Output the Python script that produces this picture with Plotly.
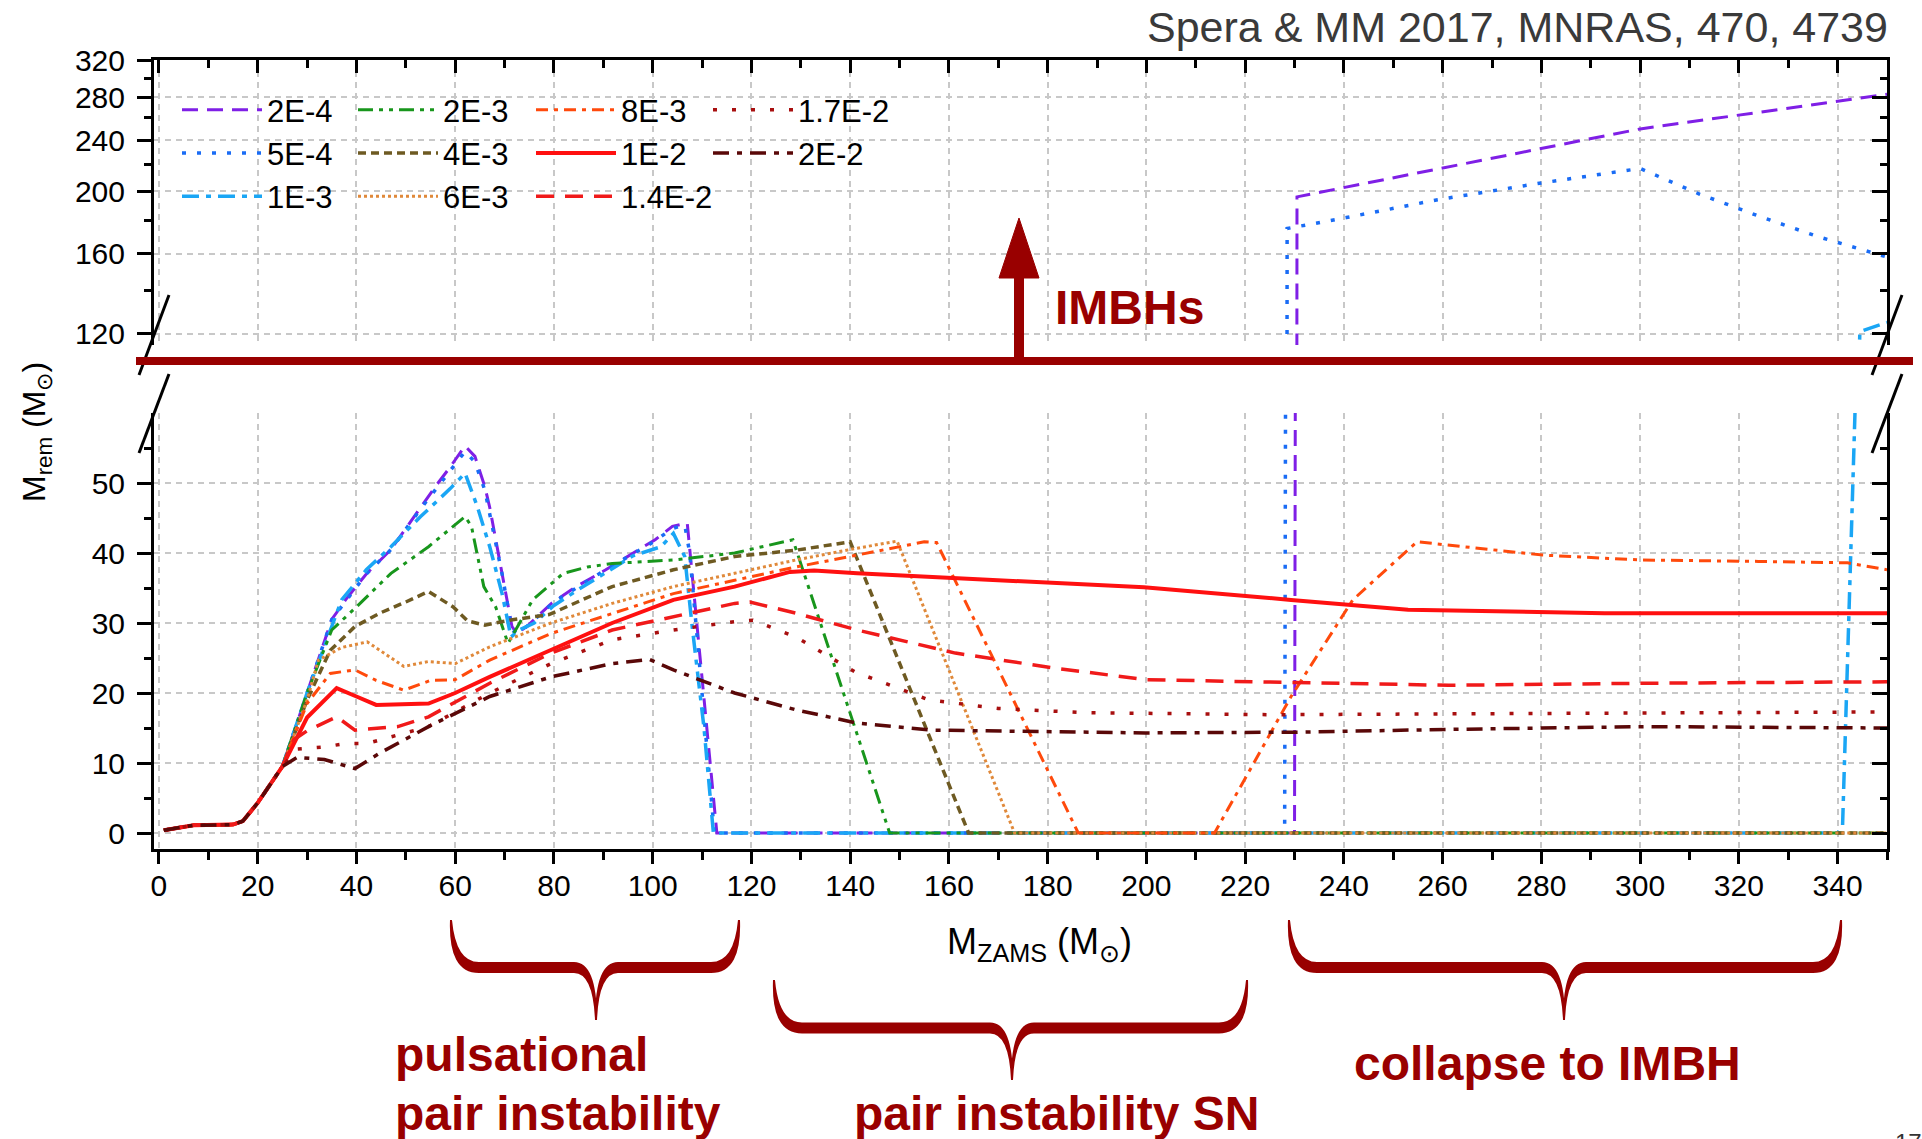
import numpy as np
import plotly.graph_objects as go

W, H = 1922, 1139
ML, MR, MT, MB = 154, 35, 60, 290
PW, PH = W - ML - MR, H - MT - MB


def px(X):
    return (X - ML) / PW


def py(Y):
    return (H - MB - Y) / PH


FONT = "Liberation Sans, Arial, sans-serif"
DARKRED = "#990000"

# ---------------- data ----------------
x_common = [1, 7, 15, 17, 20, 25]
y_common = [0.4, 1.1, 1.2, 1.7, 4.3, 9.5]

x_2e4 = [30, 35, 38, 42, 47, 53, 56, 59, 62, 64, 66, 67, 69.5, 71.5, 72.5, 74.5, 79.5, 84.5, 90.5, 97,
         100.5, 104, 107, 113, 230, 230.5, 300, 350]
y_2e4 = [20, 30.5, 33.5, 37, 40.5, 46.5, 49.5, 52.3, 55.3, 53.8, 49.5, 46.5, 37, 29.5, 28.5, 29.5, 32.8,
         35.2, 37.6, 40.4, 41.9, 43.8, 44.3, 0, 0, 196, 250, 283]

x_5e4 = [30, 35, 42, 47, 53, 59, 62, 64, 66, 69.5, 71.5, 72.5, 74.5, 80, 90, 100, 104, 106.5, 107.5,
         112.5, 228, 228.5, 240.5, 259, 280, 300, 312, 324, 336, 350]
y_5e4 = [20, 30.5, 37, 40.5, 46.3, 51.8, 54.5, 53, 49, 37, 29, 28.5, 29.5, 33, 37.4, 41.5, 43.5, 44, 40,
         0, 0, 175, 182, 194, 206, 217, 198, 183, 170, 158]

x_1e3 = [30, 35, 37, 42, 47, 53, 59, 62, 64.5, 67, 69.5, 71.3, 73, 76, 80, 85, 90, 96, 101.7, 104.2,
         106.5, 108, 110.4, 112.3, 340, 341, 343.6, 344.5, 350]
y_1e3 = [20, 29.5, 33.3, 37.6, 40.9, 45.2, 49.2, 51.4, 46.6, 40.9, 34.2, 28, 29, 30, 32.5, 34.8, 37, 39.6,
         40.9, 42.8, 39.5, 29.5, 15, 0, 0, 1, 62, 121, 125]

x_2e3 = [30, 35, 40, 47, 54.6, 59.6, 62, 63.3, 65.8, 68.2, 70.7, 75.7, 81.9, 86.8, 91.8, 104.2, 116.6,
         128.4, 148, 350]
y_2e3 = [20, 29, 32.3, 37.1, 40.9, 43.8, 45.2, 43.8, 35.2, 32.3, 27.1, 33.3, 37.1, 38, 38.5, 39, 40,
         41.9, 0, 0]

x_4e3 = [30, 34.7, 39.7, 44.7, 50, 54.6, 59.6, 62.5, 66, 71, 79, 91.8, 104.2, 116.6, 129, 140, 164, 350]
y_4e3 = [19, 26.1, 29.5, 31.4, 33, 34.5, 32.3, 30.3, 29.7, 30.4, 31.2, 35.2, 37.6, 39.5, 40.4, 41.6, 0, 0]

x_6e3 = [30, 32.3, 37, 42.2, 46, 49.6, 54.6, 60, 67, 79.4, 91.8, 104.2, 116.6, 129, 140, 149.5, 173.3, 350]
y_6e3 = [19, 24.7, 26.5, 27.3, 25.5, 23.8, 24.5, 24.2, 26.6, 30, 32.8, 35.2, 37.1, 39, 40.5, 41.7, 0, 0]

x_8e3 = [30, 34.7, 39.7, 44, 49.6, 55, 60, 67, 79.4, 91.8, 104.2, 116.6, 129, 141.4, 155, 157.5, 186.2,
         213.8, 229.3, 241.8, 254.8, 280.3, 300.3, 323.9, 342, 350]
y_8e3 = [18.5, 22.8, 23.3, 21.8, 20.4, 21.8, 21.9, 24.7, 28.5, 31.4, 34.2, 36.1, 38, 39.7, 41.6, 41.5, 0,
         0, 19.5, 33.3, 41.6, 39.7, 39, 38.8, 38.6, 37.6]

x_1e2 = [30, 36, 40, 44, 54.6, 60, 67, 79.4, 88, 91.8, 104.2, 116.6, 127.8, 132.7, 141.4, 161.3, 199.5,
         229.3, 253, 292.8, 350]
y_1e2 = [16.5, 20.7, 19.5, 18.3, 18.5, 20, 22.3, 26.1, 28.8, 30, 33.3, 35.2, 37.3, 37.5, 37.1, 36.4, 35.1,
         33.3, 31.9, 31.4, 31.4]

x_14e2 = [27.3, 30, 36, 39.7, 48.4, 54.6, 67, 79.4, 91.8, 104.2, 116.6, 119.7, 129, 141.4, 161.3, 181,
          199.8, 229.9, 261.2, 301.3, 350]
y_14e2 = [13.3, 14.6, 16.6, 14.7, 15.2, 16.6, 21.4, 25.7, 29, 30.9, 32.8, 33, 31.4, 29, 25.7, 23.6, 21.9,
          21.5, 21.1, 21.4, 21.6]

x_17e2 = [28, 33.5, 38, 42.2, 54.6, 67, 79.4, 91.8, 104.2, 116.6, 120.3, 129, 141, 156, 170, 187, 225,
          287, 350]
y_17e2 = [12, 12.3, 12.8, 12.8, 15.2, 20, 24.2, 27.6, 29, 30.2, 30.4, 28, 23, 19, 17.8, 17.2, 16.9, 17.1,
          17.3]

x_2e2 = [28, 33.5, 39.7, 44.7, 54.6, 67, 79.4, 91.8, 99.3, 104.2, 116.6, 129, 141.4, 156.3, 199.8, 229.9,
         261.2, 281.3, 301.3, 325.1, 350]
y_2e2 = [10.8, 10.5, 9.2, 11.4, 15.2, 19.5, 22.3, 24.2, 24.8, 23.3, 20, 17.6, 15.7, 14.7, 14.3, 14.4,
         14.8, 15, 15.2, 15.1, 15]

x_ticks = list(range(0, 341, 20))
y_ticks_low = [0, 10, 20, 30, 40, 50]
y_ticks_up = [120, 160, 200, 240, 280, 320]

# ---------------- styles ----------------
styles = [
    # label, xs, ys, color, dash, width, legend
    ("2E-4", x_2e4, y_2e4, "#7f1fe6", "16px,9px", 3, "legend"),
    ("5E-4", x_5e4, y_5e4, "#1a6cf5", "4px,11px", 3.5, "legend"),
    ("1E-3", x_1e3, y_1e3, "#1aa6f5", "17px,7px,5px,7px", 3.5, "legend"),
    ("2E-3", x_2e3, y_2e3, "#18961c", "15px,6px,4px,6px,4px,6px", 3, "legend2"),
    ("4E-3", x_4e3, y_4e3, "#6e5a22", "8px,5px", 3.5, "legend2"),
    ("6E-3", x_6e3, y_6e3, "#e0893a", "3px,3px", 3, "legend2"),
    ("8E-3", x_8e3, y_8e3, "#ff4a0c", "12px,6px,4px,6px", 3, "legend3"),
    ("1E-2", x_1e2, y_1e2, "#ff1010", "solid", 4, "legend3"),
    ("1.4E-2", x_14e2, y_14e2, "#f01a1a", "18px,11px", 3.5, "legend3"),
    ("1.7E-2", x_17e2, y_17e2, "#a80f0f", "4px,15px", 3.5, "legend4"),
    ("2E-2", x_2e2, y_2e2, "#5a0808", "16px,8px,5px,8px", 3.5, "legend4"),
]

fig = go.Figure()

for name, xs, ys, col, dash, lw, leg in styles:
    X = np.array(x_common + xs, dtype=float)
    Y = np.array(y_common + ys, dtype=float)
    fig.add_trace(go.Scatter(
        x=X, y=Y, mode="lines", name=name, legendgroup=name, legend=leg,
        line=dict(color=col, dash=dash, width=lw),
        xaxis="x", yaxis="y", hoverinfo="skip"))
    if Y.max() > 115:
        Yu = np.where(Y > 0, Y, 1e-3)
        fig.add_trace(go.Scatter(
            x=X, y=Yu, mode="lines", name=name, legendgroup=name, showlegend=False,
            line=dict(color=col, dash=dash, width=lw),
            xaxis="x2", yaxis="y2", hoverinfo="skip"))

# dummy traces so the mirrored axes exist
fig.add_trace(go.Scatter(x=[None], y=[None], xaxis="x", yaxis="y3", showlegend=False))
fig.add_trace(go.Scatter(x=[None], y=[None], xaxis="x2", yaxis="y4", showlegend=False))
fig.add_trace(go.Scatter(x=[None], y=[None], xaxis="x3", yaxis="y", showlegend=False))

low_dom = [0, (H - MB - 413) / PH]
up_dom = [(H - MB - 345) / PH, 1]
low_range = [(833 - 849) / 7.0, 60]
up_range = [np.log10(115.3), np.log10(320)]

grid = dict(showgrid=True, gridcolor="#c8c8c8", gridwidth=1.5, griddash="6px,5px")
tickf = dict(family=FONT, size=30, color="black")

fig.update_layout(
    width=W, height=H, autosize=False,
    margin=dict(l=ML, r=MR, t=MT, b=MB, pad=0),
    paper_bgcolor="white", plot_bgcolor="white",
    font=dict(family=FONT, size=30, color="black"),
    xaxis=dict(domain=[0, 1], anchor="y", range=[-1, 350], tickmode="array", tickvals=x_ticks,
               ticks="outside", ticklen=8, tickwidth=2.5, tickcolor="black",
               showline=True, linewidth=3, linecolor="black", zeroline=False,
               tickfont=tickf, ticklabelstandoff=0,
               minor=dict(tickvals=list(range(10, 351, 20)), ticks="outside", ticklen=8,
                          tickwidth=2.5, tickcolor="black", showgrid=False),
               **grid),
    # long major ticks of the bottom axis (no labels)
    xaxis3=dict(overlaying="x", anchor="y", side="bottom", range=[-1, 350], tickmode="array",
                tickvals=x_ticks, ticks="outside", ticklen=14, tickwidth=2.5, tickcolor="black",
                showticklabels=False, showline=False, showgrid=False, zeroline=False),
    xaxis2=dict(domain=[0, 1], anchor="y2", side="top", range=[-1, 350], tickmode="array",
                tickvals=x_ticks, ticks="inside", ticklen=13, tickwidth=2.5, tickcolor="black",
                showticklabels=False, showline=True, linewidth=3, linecolor="black", zeroline=False,
                minor=dict(tickvals=list(range(10, 351, 20)), ticks="inside", ticklen=8,
                           tickwidth=2.5, tickcolor="black", showgrid=False),
                **grid),
    yaxis=dict(domain=low_dom, anchor="x", range=low_range, tickmode="array", tickvals=y_ticks_low,
               ticks="outside", ticklen=14, tickwidth=2.5, tickcolor="black",
               showline=True, linewidth=3, linecolor="black", zeroline=False,
               tickfont=tickf, ticklabelstandoff=6,
               minor=dict(tickvals=[5, 15, 25, 35, 45, 55], ticks="outside", ticklen=7,
                          tickwidth=2.5, tickcolor="black", showgrid=False),
               **grid),
    yaxis3=dict(overlaying="y", anchor="x", side="right", range=low_range, tickmode="array",
                tickvals=y_ticks_low, ticks="inside", ticklen=15, tickwidth=2.5, tickcolor="black",
                showticklabels=False, showline=True, linewidth=3, linecolor="black",
                zeroline=False, showgrid=False,
                minor=dict(tickvals=[5, 15, 25, 35, 45, 55], ticks="inside", ticklen=7,
                           tickwidth=2.5, tickcolor="black", showgrid=False)),
    yaxis2=dict(domain=up_dom, anchor="x2", type="log", range=up_range, tickmode="array",
                tickvals=y_ticks_up, ticktext=[str(v) for v in y_ticks_up],
                ticks="outside", ticklen=14, tickwidth=2.5, tickcolor="black",
                showline=True, linewidth=3, linecolor="black", zeroline=False,
                tickfont=tickf, ticklabelstandoff=6,
                minor=dict(tickvals=[140, 180, 220, 260, 300], ticks="outside", ticklen=7,
                           tickwidth=2.5, tickcolor="black", showgrid=False),
                **grid),
    yaxis4=dict(overlaying="y2", anchor="x2", side="right", type="log", range=up_range,
                tickmode="array", tickvals=y_ticks_up, ticks="inside", ticklen=15, tickwidth=2.5,
                tickcolor="black", showticklabels=False, showline=True, linewidth=3,
                linecolor="black", zeroline=False, showgrid=False,
                minor=dict(tickvals=[140, 180, 220, 260, 300], ticks="inside", ticklen=7,
                           tickwidth=2.5, tickcolor="black", showgrid=False)),
)

leg_common = dict(yanchor="top", xanchor="left", orientation="v", bgcolor="rgba(0,0,0,0)",
                  font=dict(family=FONT, size=31, color="black"), itemwidth=80,
                  tracegroupgap=0, borderwidth=0)
leg_y = py(83)
fig.update_layout(
    legend=dict(x=px(177), y=leg_y, **leg_common),
    legend2=dict(x=px(353), y=leg_y, **leg_common),
    legend3=dict(x=px(531), y=leg_y, **leg_common),
    legend4=dict(x=px(708), y=leg_y, **leg_common),
)

# ---------------- annotations ----------------
ann = []
ann.append(dict(x=px(1890), y=py(27), xref="paper", yref="paper", xanchor="right", yanchor="middle",
                text="Spera &amp; MM 2017, MNRAS, 470, 4739", showarrow=False,
                font=dict(family=FONT, size=43, color="#3a3a3a")))
ann.append(dict(x=px(1039), y=py(944), xref="paper", yref="paper", xanchor="center", yanchor="middle",
                text="M<sub>ZAMS</sub> (M<sub>⊙</sub>)", showarrow=False,
                font=dict(family=FONT, size=36, color="black")))
ann.append(dict(x=px(36), y=py(432), xref="paper", yref="paper", xanchor="center", yanchor="middle",
                text="M<sub>rem</sub> (M<sub>⊙</sub>)", textangle=-90, showarrow=False,
                font=dict(family=FONT, size=32, color="black")))
bold = dict(family=FONT, size=48, color=DARKRED)
ann.append(dict(x=px(1053), y=py(307), xref="paper", yref="paper", xanchor="left", yanchor="middle",
                text="<b>IMBHs</b>", showarrow=False, font=bold))
ann.append(dict(x=px(393), y=py(1054), xref="paper", yref="paper", xanchor="left", yanchor="middle",
                text="<b>pulsational</b>", showarrow=False, font=bold))
ann.append(dict(x=px(393), y=py(1113), xref="paper", yref="paper", xanchor="left", yanchor="middle",
                text="<b>pair instability</b>", showarrow=False, font=bold))
ann.append(dict(x=px(1056), y=py(1113), xref="paper", yref="paper", xanchor="center", yanchor="middle",
                text="<b>pair instability SN</b>", showarrow=False, font=bold))
ann.append(dict(x=px(1547), y=py(1063), xref="paper", yref="paper", xanchor="center", yanchor="middle",
                text="<b>collapse to IMBH</b>", showarrow=False, font=bold))
ann.append(dict(x=px(1893), y=py(1127), xref="paper", yref="paper", xanchor="left", yanchor="top",
                text="17", showarrow=False, font=dict(family=FONT, size=24, color="#333")))

# ---------------- shapes ----------------
shp = []


def line(x0, y0, x1, y1, color, width):
    return dict(type="line", xref="paper", yref="paper", x0=px(x0), y0=py(y0), x1=px(x1), y1=py(y1),
                line=dict(color=color, width=width), layer="above")


def P(x, y):
    return f"{px(x):.5f},{py(y):.5f}"


def brace(x0, x1, xt, ytop, ybar, ytip, r=28, rt=22, h=4.5):
    up = ybar - h
    lo = ybar + h
    d = (f"M {P(x0, ytop)} "
         f"Q {P(x0 + 4, up)} {P(x0 + r, up)} L {P(xt - rt, up)} "
         f"Q {P(xt, up)} {P(xt, ytip)} "
         f"Q {P(xt, up)} {P(xt + rt, up)} L {P(x1 - r, up)} "
         f"Q {P(x1 - 4, up)} {P(x1, ytop)} "
         f"Q {P(x1 + 2, lo)} {P(x1 - r, lo)} L {P(xt + rt, lo)} "
         f"Q {P(xt + 2, lo)} {P(xt, ytip)} "
         f"Q {P(xt - 2, lo)} {P(xt - rt, lo)} L {P(x0 + r, lo)} "
         f"Q {P(x0 - 2, lo)} {P(x0, ytop)} Z")
    return dict(type="path", xref="paper", yref="paper", path=d, fillcolor=DARKRED,
                line=dict(color=DARKRED, width=2), layer="above")


# break marks
for xa in (154, 1887):
    shp.append(line(xa + 15, 295, xa - 15, 375, "black", 3))
    shp.append(line(xa + 15, 374, xa - 15, 453, "black", 3))
# thick horizontal separator
shp.append(line(136, 361, 1913, 361, DARKRED, 8))
# arrow
shp.append(dict(type="rect", xref="paper", yref="paper", x0=px(1014), x1=px(1024), y0=py(361),
                y1=py(272), fillcolor=DARKRED, line=dict(width=0), layer="above"))
shp.append(dict(type="path", xref="paper", yref="paper",
                path=f"M {P(999, 278)} L {P(1039, 278)} L {P(1019, 218)} Z",
                fillcolor=DARKRED, line=dict(color=DARKRED, width=1), layer="above"))
# braces
shp.append(brace(451, 739, 596, 920, 967.5, 1020))
shp.append(brace(774, 1247, 1012, 980, 1028, 1080))
shp.append(brace(1289, 1841, 1564, 920, 967.5, 1020))

fig.update_layout(annotations=ann, shapes=shp)

fig.write_html("out.html")
